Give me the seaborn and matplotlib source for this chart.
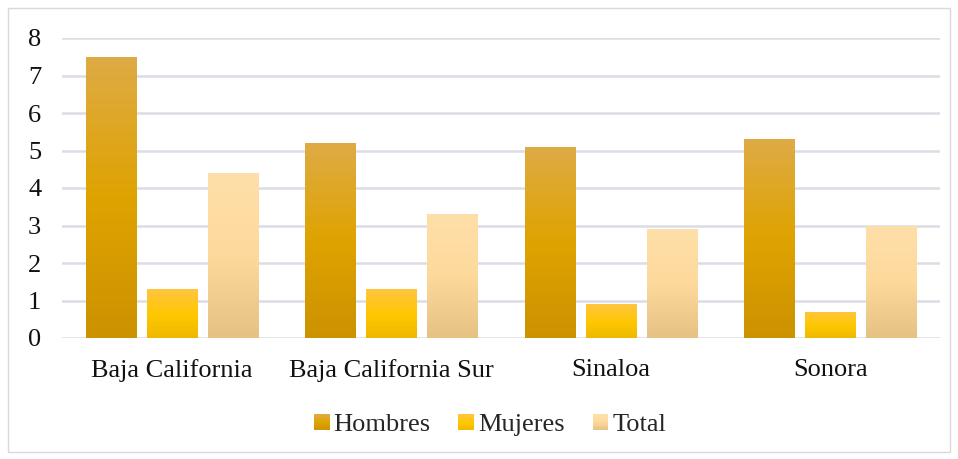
import numpy as np
import pandas as pd
import matplotlib
matplotlib.use("Agg")
import matplotlib.pyplot as plt
import seaborn as sns
from matplotlib.colors import LinearSegmentedColormap
from matplotlib.patches import Rectangle
from matplotlib.legend_handler import HandlerBase

# Values by state
categories = ["Baja California", "Baja California Sur", "Sinaloa", "Sonora"]
series_names = ["Hombres", "Mujeres", "Total"]
hombres = [7.5, 5.2, 5.1, 5.3]
mujeres = [1.3, 1.3, 0.9, 0.7]
total = [4.4, 3.3, 2.9, 3.0]
y_ticks = [0, 1, 2, 3, 4, 5, 6, 7, 8]

# Vertical gradient stops per series (bottom -> top)
gradients = {
    "Hombres": [(0.0, "#CC9200"), (0.5, "#DFA300"), (1.0, "#DEAB46")],
    "Mujeres": [(0.0, "#EDB800"), (0.45, "#FFC700"), (1.0, "#FFC540")],
    "Total": [(0.0, "#E5C283"), (0.5, "#FDD99C"), (1.0, "#FFDFA9")],
}
cmaps = {k: LinearSegmentedColormap.from_list(k, v) for k, v in gradients.items()}
mid_colors = {"Hombres": "#DFA300", "Mujeres": "#FFC700", "Total": "#FDD99C"}

df = pd.DataFrame({
    "estado": categories * 3,
    "serie": sum([[s] * len(categories) for s in series_names], []),
    "valor": hombres + mujeres + total,
})

sns.set_theme(style="white")
plt.rcParams["font.family"] = ["Liberation Serif", "DejaVu Serif"]

fig = plt.figure(figsize=(9.58, 4.59), dpi=100)
ax = fig.add_axes([62 / 958, 121 / 459, 878 / 958, 300 / 459])

sns.barplot(data=df, x="estado", y="valor", hue="serie", order=categories,
            hue_order=series_names, palette=mid_colors, width=0.834, gap=0.18,
            errorbar=None, legend=False, ax=ax, zorder=3, saturation=1)

ax.set_xlim(-0.5, len(categories) - 0.5)
ax.set_ylim(0, 8)
grad = np.linspace(0, 1, 256).reshape(-1, 1)

for name, cont in zip(series_names, ax.containers):
    for bar in cont:
        x0, y0 = bar.get_x(), bar.get_y()
        w, h = bar.get_width(), bar.get_height()
        bar.set_facecolor("none")
        bar.set_edgecolor("none")
        im = ax.imshow(grad, cmap=cmaps[name], origin="lower", aspect="auto",
                       extent=(x0, x0 + w, y0, y0 + h), zorder=3,
                       interpolation="bilinear")
        im.set_clip_path(bar)

ax.set_xlim(-0.5, len(categories) - 0.5)
ax.set_ylim(0, 8)
ax.set_yticks(y_ticks)
ax.set_yticklabels([str(t) for t in y_ticks])
ax.grid(axis="y", color="#DADDE4", linewidth=1.8, zorder=0)
ax.grid(axis="x", visible=False)
for s in ax.spines.values():
    s.set_visible(False)
ax.tick_params(axis="both", length=0, labelsize=19, colors="#111111")
ax.tick_params(axis="y", pad=15)
ax.tick_params(axis="x", pad=15)
ax.set_xlabel("")
ax.set_ylabel("")


class GradientHandler(HandlerBase):
    def __init__(self, cmap):
        super().__init__()
        self.cmap = cmap

    def create_artists(self, legend, orig_handle, xdescent, ydescent,
                       width, height, fontsize, trans):
        side = min(width, height)
        x = -xdescent + (width - side) / 2
        y = -ydescent + (height - side) / 2
        n = 12
        arts = []
        for i in range(n):
            r = Rectangle((x, y + side * i / n), side, side / n + 0.3,
                          facecolor=self.cmap((i + 0.5) / n), edgecolor="none",
                          transform=trans)
            arts.append(r)
        return arts


handles = [Rectangle((0, 0), 1, 1) for _ in series_names]
fig.legend(handles, series_names, loc="center",
           bbox_to_anchor=(490 / 958, 1 - 425 / 459), ncol=3, frameon=False,
           fontsize=19, handlelength=0.6, handleheight=0.6, handletextpad=0.15,
           columnspacing=1.05,
           handler_map={h: GradientHandler(cmaps[n]) for h, n in zip(handles, series_names)})

# Chart frame
fig.patches.append(Rectangle((8 / 958, 7 / 459), 942 / 958, 444 / 459,
                             transform=fig.transFigure, facecolor="none",
                             edgecolor="#D9D9D9", linewidth=1.0))

fig.savefig("out.png", dpi=100)
